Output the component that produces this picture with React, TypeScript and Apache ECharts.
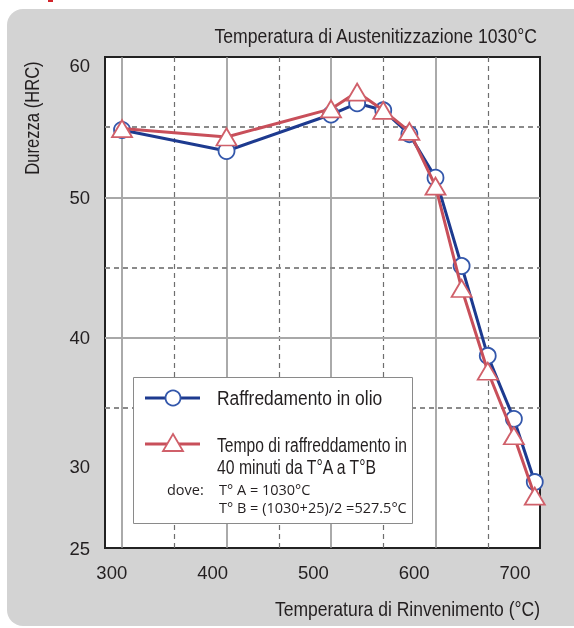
import React, { useEffect, useRef } from "react";
import * as echarts from "echarts";

// ---- data ----
const temperatures = [300, 400, 500, 525, 550, 575, 600, 625, 650, 675, 695];
const hardnessOil = [54.8, 53.3, 55.9, 56.7, 56.2, 54.5, 51.4, 45.1, 38.7, 34.2, 29.7];
const hardnessSlow = [54.9, 54.3, 56.3, 57.5, 56.2, 54.7, 50.8, 43.5, 37.6, 33.0, 28.7];

const xTickLabels = [300, 400, 500, 600, 700];
const yTickLabels = [25, 30, 40, 50, 60];
const xSolidGrid = [300, 400, 500, 600];
const xDashedGrid = [350, 450, 550, 650];
const ySolidGrid = [40, 50];
const yDashedGrid = [35, 45, 55];

const seriesNames = [
  "Raffredamento in olio",
  "Tempo di raffreddamento in 40 minuti da T°A a T°B",
];
const legendLines = [
  "Raffredamento in olio",
  "Tempo di raffreddamento in",
  "40 minuti da T°A a T°B",
];
const legendNote = ["dove:", "T° A = 1030°C", "T° B = (1030+25)/2 =527.5°C"];
const titleText = "Temperatura di Austenitizzazione 1030°C";
const xName = "Temperatura di Rinvenimento (°C)";
const yName = "Durezza (HRC)";

const SANS = "'Liberation Sans', Arial, Helvetica, sans-serif";
const NOTE_FONT = "'Open Sans', 'Noto Sans', sans-serif";
const TXT = "#231f20";
const BLUE = "#1d3a8f";
const BLUE_MARK = "#3357ab";
const RED = "#c84f5a";
const RED_MARK = "#d0606a";

function narrowText(
  text: string,
  x: number,
  y: number,
  align: string,
  condense: number,
  extra: any = {}
) {
  return {
    type: "text",
    z: 12,
    x,
    y,
    scaleX: condense,
    silent: true,
    ...extra,
    style: {
      text,
      fontFamily: SANS,
      fontSize: 21,
      fill: TXT,
      align,
      verticalAlign: "middle",
    },
  };
}

function noteText(text: string, x: number, y: number) {
  return {
    type: "text",
    z: 12,
    x,
    y,
    silent: true,
    style: {
      text,
      fontFamily: NOTE_FONT,
      fontSize: 14.5,
      fill: TXT,
      align: "left",
      verticalAlign: "middle",
    },
  };
}

export default function App() {
  const ref = useRef<HTMLDivElement>(null);

  useEffect(() => {
    if (!ref.current) return;
    const chart = echarts.init(ref.current, undefined, { renderer: "svg" });

    const gridLines = [
      ...xSolidGrid.map((v) => ({
        xAxis: v,
        lineStyle: { type: "solid", color: "#8e8e8e", width: 1.5 },
      })),
      ...xDashedGrid.map((v) => ({
        xAxis: v,
        lineStyle: { type: [5, 4], color: "#6e6e6e", width: 1.2 },
      })),
      ...ySolidGrid.map((v) => ({
        yAxis: v,
        lineStyle: { type: "solid", color: "#a8a8a8", width: 2 },
      })),
      ...yDashedGrid.map((v) => ({
        yAxis: v,
        lineStyle: { type: [5, 4], color: "#8a8a8a", width: 2 },
      })),
    ];

    const tickFont = { fontFamily: SANS, fontSize: 18.5, color: TXT };

    const option: any = {
      animation: false,
      grid: {
        left: 105,
        top: 57,
        right: 34,
        bottom: 80,
        show: true,
        backgroundColor: "#ffffff",
        borderColor: "#222222",
        borderWidth: 2,
        outerBoundsMode: "none",
        containLabel: false,
      },
      xAxis: [
        {
          type: "value",
          min: 283.7,
          max: 700,
          show: false,
        },
        {
          type: "value",
          min: 293.25,
          max: 724.8,
          position: "bottom",
          axisLine: { show: false },
          axisTick: { show: false },
          splitLine: { show: false },
          axisLabel: {
            customValues: xTickLabels,
            formatter: (v: number) => (xTickLabels.includes(v) ? String(v) : ""),
            margin: 15,
            ...tickFont,
          },
        },
      ],
      yAxis: {
        type: "value",
        min: 25,
        max: 60,
        interval: 5,
        axisLine: { show: false },
        axisTick: { show: false },
        splitLine: { show: false },
        axisLabel: {
          margin: 15,
          ...tickFont,
          formatter: (v: number) => {
            if (v === 60) return "{down|60}";
            if (v === 30) return "{up|30}";
            return yTickLabels.includes(v) ? String(v) : "";
          },
          rich: {
            down: { ...tickFont, padding: [16, 0, 0, 0] },
            up: { ...tickFont, padding: [0, 0, 22, 0] },
          },
        },
      },
      series: [
        {
          type: "line",
          name: "grid",
          xAxisIndex: 0,
          data: [],
          z: 1,
          silent: true,
          markLine: {
            z: 1,
            silent: true,
            symbol: ["none", "none"],
            label: { show: false },
            emphasis: { disabled: true },
            data: gridLines,
          },
        },
        {
          type: "line",
          name: seriesNames[0],
          xAxisIndex: 0,
          z: 3,
          data: temperatures.map((t, i) => [t, hardnessOil[i]]),
          symbol: "circle",
          symbolSize: 16,
          showAllSymbol: true,
          lineStyle: { color: BLUE, width: 3 },
          itemStyle: { color: "#ffffff", borderColor: BLUE_MARK, borderWidth: 1.8 },
        },
        {
          type: "line",
          name: seriesNames[1],
          xAxisIndex: 0,
          z: 4,
          data: temperatures.map((t, i) => [t, hardnessSlow[i]]),
          symbol: "triangle",
          symbolSize: [20, 17],
          showAllSymbol: true,
          lineStyle: { color: RED, width: 3 },
          itemStyle: { color: "#ffffff", borderColor: RED_MARK, borderWidth: 1.8 },
        },
      ],
      graphic: {
        elements: [
          {
            type: "rect",
            z: -10,
            silent: true,
            shape: { x: 7, y: 9, width: 620, height: 617, r: 16 },
            style: { fill: "#d3d3d3" },
          },
          {
            type: "rect",
            z: -10,
            silent: true,
            shape: { x: 48, y: 0, width: 5, height: 2 },
            style: { fill: "#d2232a" },
          },
          // title and axis names
          narrowText(titleText, 537, 35.5, "right", 0.84, { z: 6 }),
          narrowText(xName, 540, 608, "right", 0.835, { z: 6 }),
          narrowText(yName, 32, 118, "center", 0.79, { z: 6, rotation: Math.PI / 2 }),
          // legend box
          {
            type: "rect",
            z: 10,
            silent: true,
            shape: { x: 133.5, y: 377.5, width: 279, height: 146 },
            style: { fill: "#ffffff", stroke: "#8a8a8a", lineWidth: 1 },
          },
          {
            type: "line",
            z: 11,
            silent: true,
            shape: { x1: 145, y1: 398, x2: 200, y2: 398 },
            style: { stroke: BLUE, lineWidth: 3 },
          },
          {
            type: "circle",
            z: 12,
            silent: true,
            shape: { cx: 173, cy: 398, r: 7.5 },
            style: { fill: "#ffffff", stroke: BLUE_MARK, lineWidth: 1.8 },
          },
          narrowText(legendLines[0], 217, 398, "left", 0.83),
          {
            type: "line",
            z: 11,
            silent: true,
            shape: { x1: 145, y1: 444, x2: 200, y2: 444 },
            style: { stroke: RED, lineWidth: 3 },
          },
          {
            type: "polygon",
            z: 12,
            silent: true,
            shape: { points: [[173, 434], [183, 451], [163, 451]] },
            style: { fill: "#ffffff", stroke: RED_MARK, lineWidth: 1.8 },
          },
          narrowText(legendLines[1], 217, 445, "left", 0.745),
          narrowText(legendLines[2], 217, 467, "left", 0.75),
          noteText(legendNote[0], 167, 489),
          noteText(legendNote[1], 219, 489),
          noteText(legendNote[2], 219, 507),
        ],
      },
    };

    chart.setOption(option);
    return () => chart.dispose();
  }, []);

  return (
    <div
      ref={ref}
      style={{ position: "fixed", left: 0, top: 0, width: 574, height: 628 }}
    />
  );
}
